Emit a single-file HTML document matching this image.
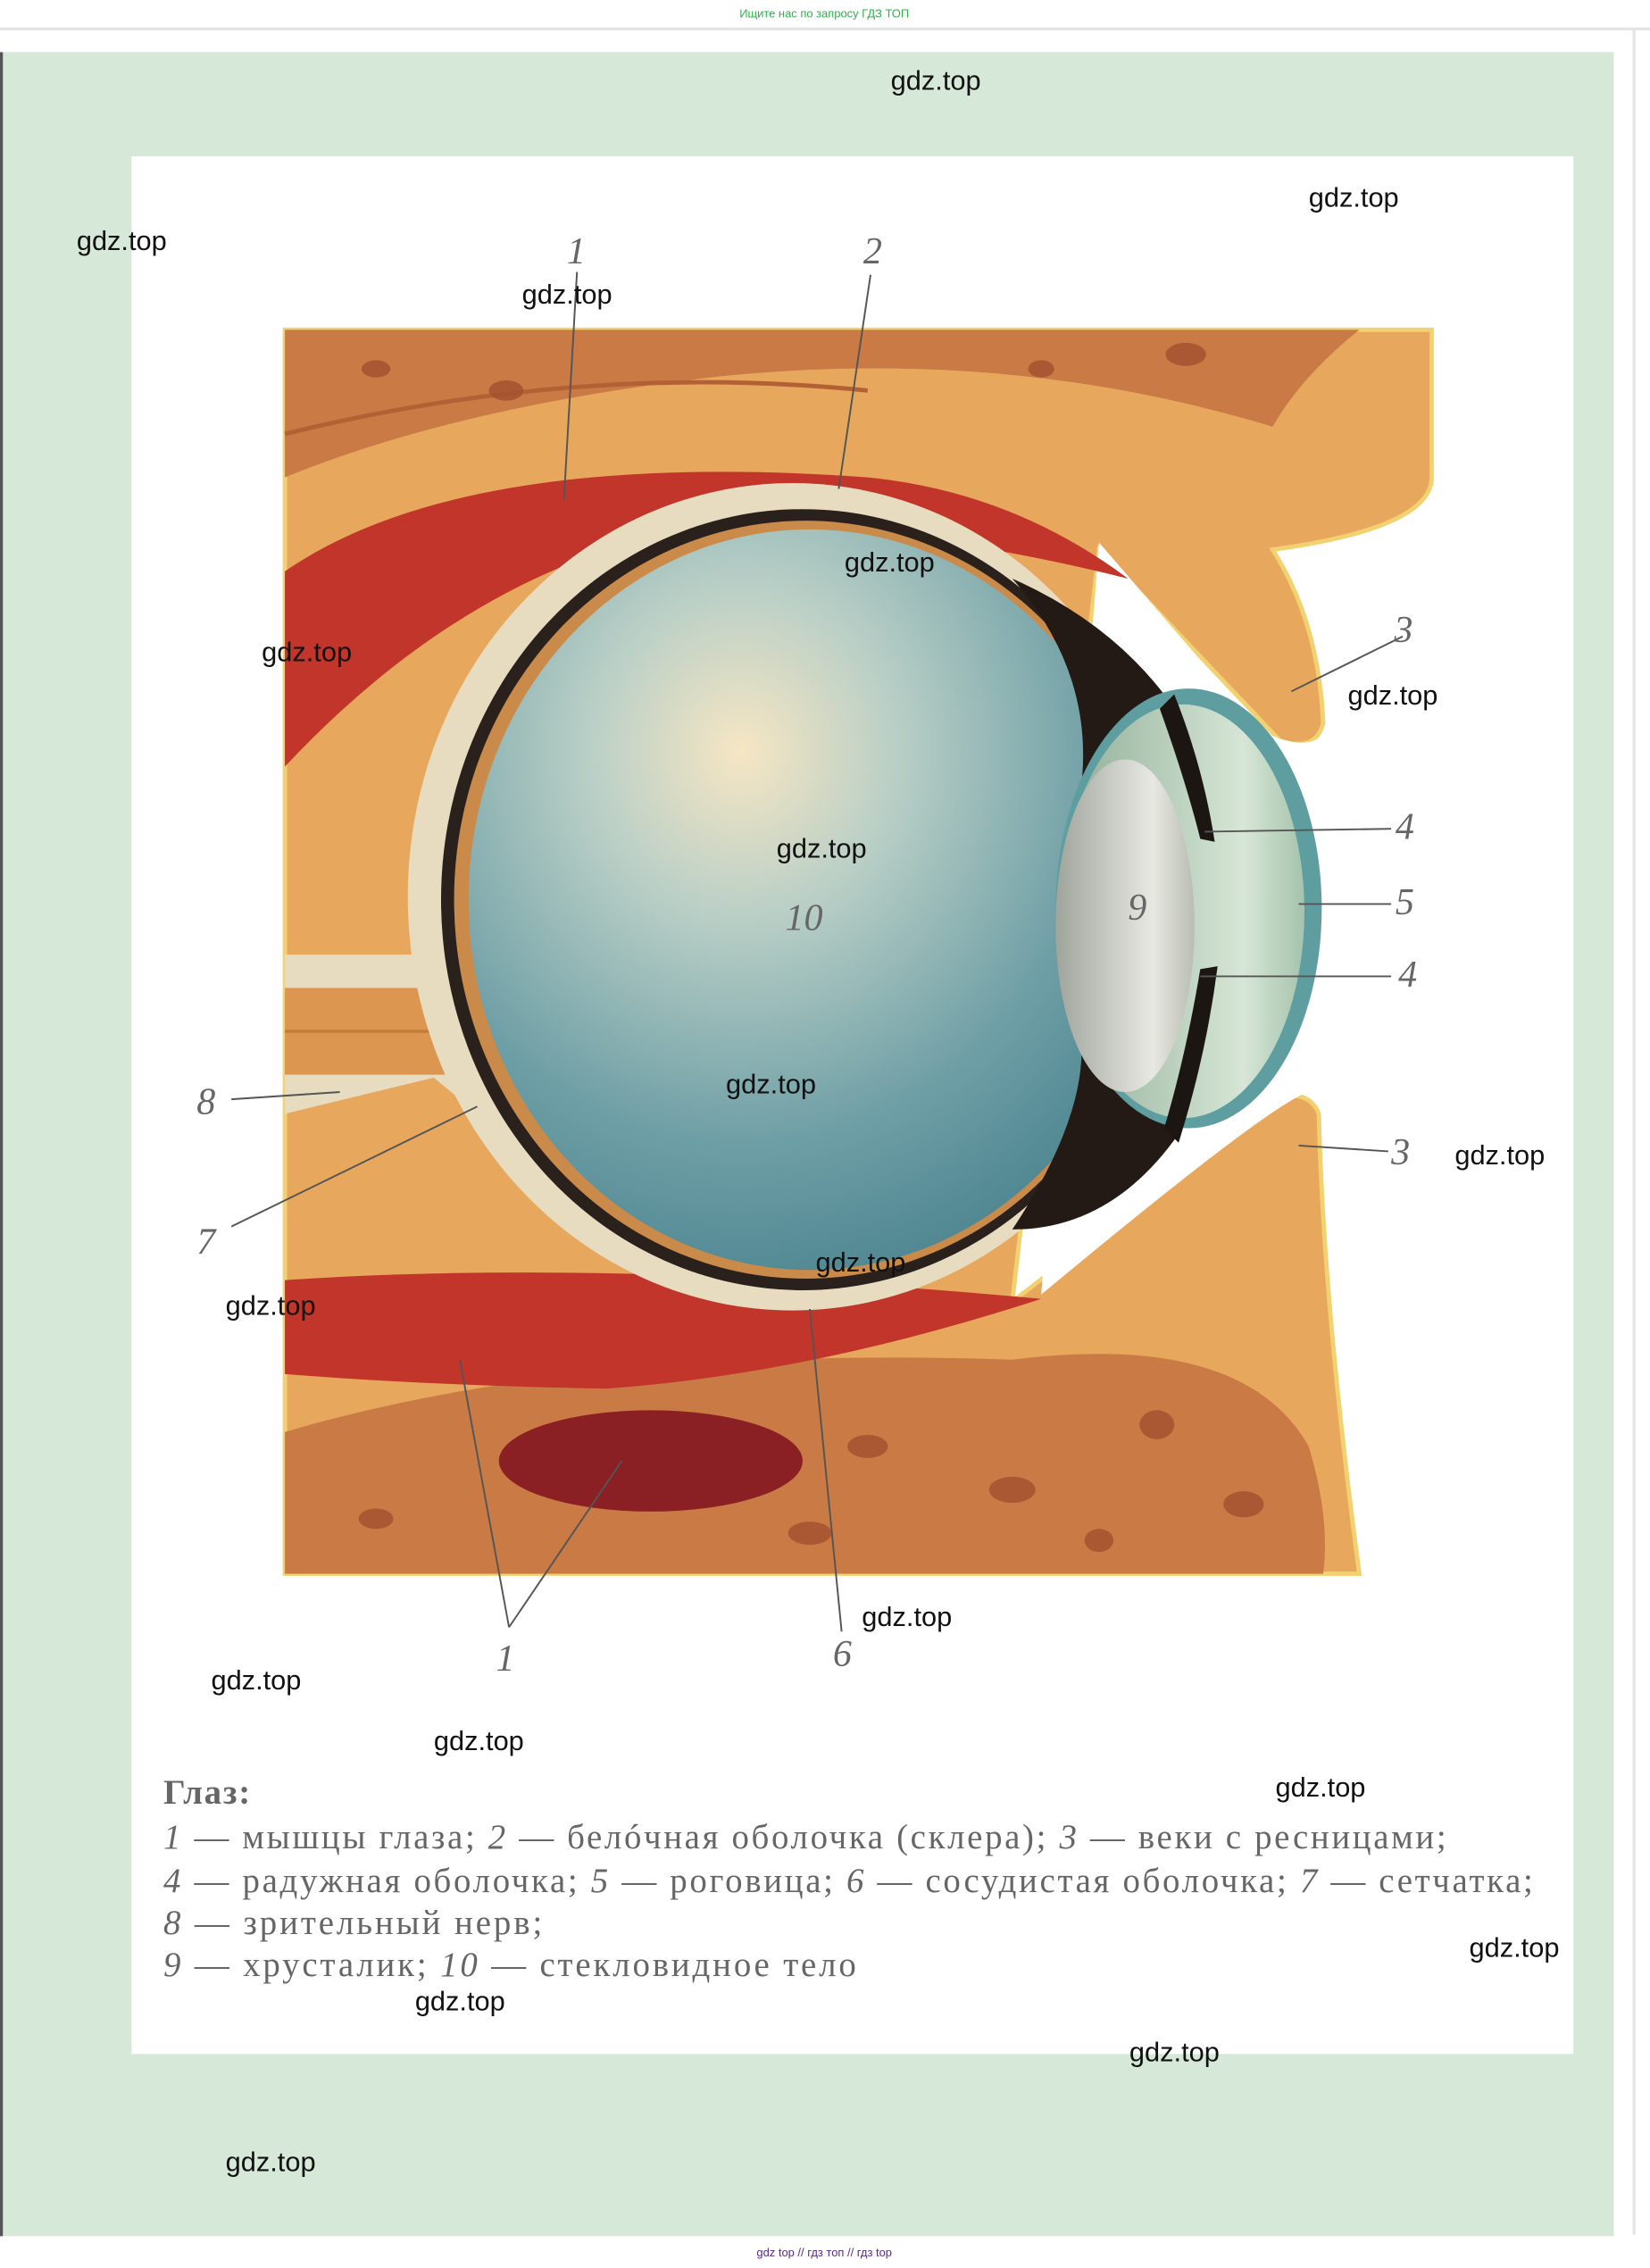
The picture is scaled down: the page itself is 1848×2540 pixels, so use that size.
<!DOCTYPE html>
<html><head><meta charset="utf-8"><style>
html,body{margin:0;padding:0;background:#fff;}
svg{display:block;}
</style></head><body>
<svg width="1848" height="2540" viewBox="0 0 1141 1568" preserveAspectRatio="none" xmlns="http://www.w3.org/2000/svg">
<defs>
<radialGradient id="vit" cx="0.4" cy="0.3" r="0.75">
<stop offset="0" stop-color="#f6e6c4"/><stop offset="0.3" stop-color="#b9cfc6"/><stop offset="0.7" stop-color="#6f9fa6"/><stop offset="1" stop-color="#4d8590"/></radialGradient>
<linearGradient id="lens" x1="0" x2="1"><stop offset="0" stop-color="#9fa59c"/><stop offset="0.7" stop-color="#e8e8e2"/><stop offset="1" stop-color="#b9bdb3"/></linearGradient>
<linearGradient id="corn" x1="0" x2="1"><stop offset="0" stop-color="#8fae98"/><stop offset="0.75" stop-color="#d7e6d6"/><stop offset="1" stop-color="#a5c3ad"/></linearGradient>
</defs>
<rect width="1141" height="1568" fill="#fff"/>
<line x1="0" y1="20" x2="1141" y2="20" stroke="#e4e4e4" stroke-width="2"/>
<line x1="1130" y1="20" x2="1130" y2="1545" stroke="#e4e4e4" stroke-width="2"/>
<text x="570" y="12" font-family="Liberation Sans, sans-serif" font-size="8" fill="#2bb34a" text-anchor="middle">Ищите нас по запросу ГДЗ ТОП</text>
<rect x="0" y="36" width="1116" height="1510" fill="#d6e9d8"/>
<line x1="1" y1="36" x2="1" y2="1546" stroke="#555" stroke-width="2"/>
<rect x="91" y="108" width="997" height="1312" fill="#fff"/>
<!-- tissue -->
<path d="M197,228 H990 V330 Q990,365 880,380 Q912,430 915,500 Q910,520 885,512 L760,380 L700,900 L880,760 Q905,752 912,770 Q915,900 940,1088 H197 Z" fill="#e7a85e" stroke="#f2d170" stroke-width="3"/>
<path d="M197,228 H940 Q900,260 880,295 Q700,240 500,260 Q320,280 197,330 Z" fill="#c97a45"/>
<path d="M197,300 Q400,250 600,270" stroke="#b36035" stroke-width="3" fill="none"/>
<path d="M197,990 Q400,930 700,940 Q860,920 905,1000 Q920,1050 915,1088 H197 Z" fill="#c97a45"/>
<g fill="#a3502e" opacity="0.8">
<ellipse cx="260" cy="255" rx="10" ry="6"/><ellipse cx="350" cy="270" rx="12" ry="7"/><ellipse cx="820" cy="245" rx="14" ry="8"/><ellipse cx="720" cy="255" rx="9" ry="6"/>
<ellipse cx="600" cy="1000" rx="14" ry="8"/><ellipse cx="700" cy="1030" rx="16" ry="9"/><ellipse cx="800" cy="985" rx="12" ry="10"/><ellipse cx="860" cy="1040" rx="14" ry="9"/><ellipse cx="260" cy="1050" rx="12" ry="7"/><ellipse cx="560" cy="1060" rx="15" ry="8"/><ellipse cx="760" cy="1065" rx="10" ry="8"/>
</g>
<!-- white gap -->
<path d="M760,375 L872,505 Q905,522 918,505 L1000,505 L1000,758 L905,755 Q880,762 720,895 Z" fill="#fff"/>
<!-- muscles -->
<path d="M197,395 Q320,310 600,330 Q700,340 780,400 Q560,345 420,380 Q300,420 197,530 Z" fill="#c2352a"/>
<path d="M197,885 Q420,870 720,898 Q560,950 420,960 Q300,958 197,950 Z" fill="#c2352a"/>
<ellipse cx="450" cy="1010" rx="105" ry="35" fill="#8a1f24"/>
<!-- optic nerve -->
<path d="M197,660 L300,660 Q320,600 300,550 L330,640 L330,770 L300,745 L197,770 Z" fill="#e8dcc0"/>
<rect x="197" y="683" width="140" height="60" fill="#dc9650"/>
<line x1="197" y1="713" x2="337" y2="713" stroke="#c47a3a" stroke-width="2"/>
<!-- eye -->
<ellipse cx="548" cy="620" rx="266" ry="286" fill="#e8dcc0"/>
<ellipse cx="555" cy="622" rx="250" ry="270" fill="#2b211c"/>
<ellipse cx="557" cy="622" rx="243" ry="262" fill="#c98a4a"/>
<ellipse cx="560" cy="622" rx="236" ry="256" fill="url(#vit)"/>
<path d="M700,400 Q790,440 830,520 L860,640 L830,760 Q780,850 700,850 Q760,760 745,700 L740,580 Q770,480 700,400 Z" fill="#231a16"/>
<ellipse cx="822" cy="628" rx="92" ry="152" fill="#5f9ea0"/>
<ellipse cx="818" cy="630" rx="84" ry="143" fill="url(#corn)"/>
<path d="M802,490 Q820,540 830,580 L840,582 Q832,530 812,480 Z" fill="#1c1612"/>
<path d="M805,780 Q820,730 830,670 L842,668 Q834,730 815,790 Z" fill="#1c1612"/>
<ellipse cx="778" cy="640" rx="48" ry="115" fill="url(#lens)"/>
<!-- labels -->
<g stroke="#555" stroke-width="1.2" fill="none">
<line x1="399" y1="188" x2="390" y2="345"/>
<line x1="602" y1="190" x2="580" y2="338"/>
<line x1="970" y1="440" x2="893" y2="478"/>
<line x1="962" y1="573" x2="833" y2="575"/>
<line x1="962" y1="625" x2="898" y2="625"/>
<line x1="962" y1="675" x2="830" y2="675"/>
<line x1="960" y1="796" x2="898" y2="792"/>
<line x1="160" y1="760" x2="235" y2="755"/>
<line x1="160" y1="848" x2="330" y2="765"/>
<line x1="352" y1="1125" x2="318" y2="940"/>
<line x1="352" y1="1125" x2="430" y2="1010"/>
<line x1="582" y1="1128" x2="560" y2="905"/>
</g>
<g font-family="Liberation Serif, serif" font-style="italic" font-size="26" fill="#666">
<text x="392" y="182">1</text><text x="597" y="182">2</text><text x="964" y="444">3</text>
<text x="965" y="580">4</text><text x="965" y="632">5</text><text x="967" y="682">4</text>
<text x="962" y="805">3</text><text x="136" y="770">8</text><text x="136" y="867">7</text>
<text x="343" y="1155">1</text><text x="576" y="1152">6</text>
<text x="543" y="643">10</text><text x="780" y="636">9</text>
</g>
<!-- caption -->
<g font-family="Liberation Serif, 'Noto Serif CJK SC', serif" font-size="24" fill="#666">
<text x="113" y="1247" font-weight="bold" textLength="60" lengthAdjust="spacing">Глаз:</text>
<text x="113" y="1278" textLength="887" lengthAdjust="spacing"><tspan font-style="italic">1</tspan> — мышцы глаза; <tspan font-style="italic">2</tspan> — белóчная оболочка (склера); <tspan font-style="italic">3</tspan> — веки с ресницами;</text>
<text x="113" y="1308" textLength="947" lengthAdjust="spacing"><tspan font-style="italic">4</tspan> — радужная оболочка; <tspan font-style="italic">5</tspan> — роговица; <tspan font-style="italic">6</tspan> — сосудистая оболочка; <tspan font-style="italic">7</tspan> — сетчатка;</text>
<text x="113" y="1337" textLength="262" lengthAdjust="spacing"><tspan font-style="italic">8</tspan> — зрительный нерв;</text>
<text x="113" y="1366" textLength="479" lengthAdjust="spacing"><tspan font-style="italic">9</tspan> — хрусталик; <tspan font-style="italic">10</tspan> — стекловидное тело</text>
</g>
<!-- watermarks -->
<g font-family="Liberation Sans, sans-serif" font-size="19" fill="#111">
<text x="616" y="62">gdz.top</text><text x="905" y="143">gdz.top</text><text x="53" y="173">gdz.top</text>
<text x="361" y="210">gdz.top</text><text x="584" y="395">gdz.top</text><text x="181" y="457">gdz.top</text>
<text x="932" y="487">gdz.top</text><text x="537" y="593">gdz.top</text><text x="502" y="756">gdz.top</text>
<text x="1006" y="805">gdz.top</text><text x="564" y="879">gdz.top</text><text x="156" y="909">gdz.top</text>
<text x="596" y="1124">gdz.top</text><text x="146" y="1168">gdz.top</text><text x="300" y="1210">gdz.top</text>
<text x="882" y="1242">gdz.top</text><text x="1016" y="1353">gdz.top</text><text x="287" y="1390">gdz.top</text>
<text x="781" y="1425">gdz.top</text><text x="156" y="1501">gdz.top</text>
</g>
<text x="570" y="1560" font-family="Liberation Sans, sans-serif" font-size="8" fill="#5a2d82" text-anchor="middle">gdz top // гдз топ // гдз top</text>
</svg>
</body></html>
